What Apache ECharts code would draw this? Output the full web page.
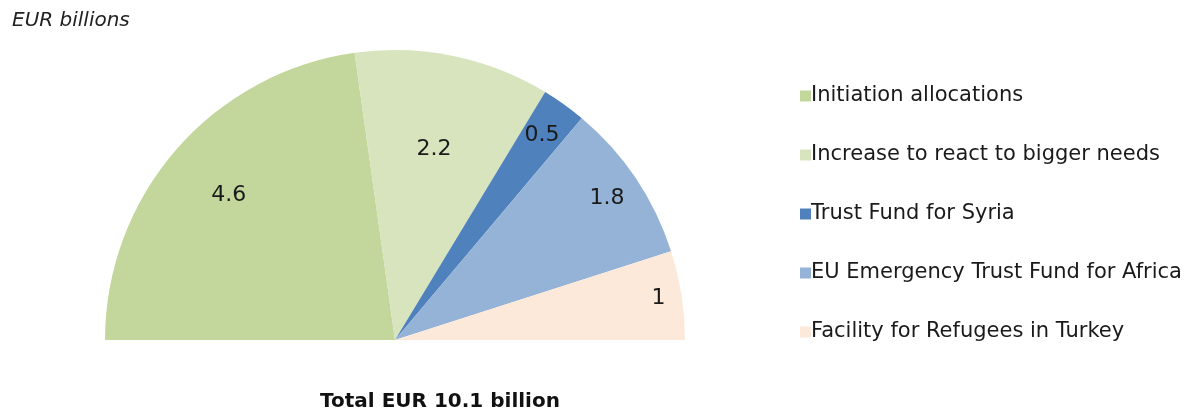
<!DOCTYPE html>
<html>
<head>
<meta charset="utf-8">
<title></title>
<script src="https://cdn.jsdelivr.net/npm/echarts@6/dist/echarts.min.js"></script>
<style>
  html, body { margin: 0; padding: 0; background: #fff; }
  #main { width: 1189px; height: 412px; }
</style>
</head>
<body>
<div id="main"></div>
<script type="text/javascript">
var categories = ['Initiation allocations', 'Increase to react to bigger needs', 'Trust Fund for Syria', 'EU Emergency Trust Fund for Africa', 'Facility for Refugees in Turkey'];
var values = [4.6, 2.2, 0.5, 1.8, 1];
var colors = ['#C3D69B', '#D7E4BD', '#4F81BD', '#95B3D7', '#FDE9D9'];
// how far out each value label sits, as a share of the radius
var labelRadius = [0.76, 0.67, 0.87, 0.88, 0.92];

var cx = 395, cy = 340, R = 290;
var total = values.reduce(function (a, b) { return a + b; }, 0);

var font = '"DejaVu Sans", Verdana, sans-serif';
var myChart = echarts.init(document.getElementById('main'));

myChart.setOption({
  animation: false,
  color: colors,
  textStyle: { fontFamily: font },
  graphic: [
    { type: 'text', left: 12, top: 11, style: { text: 'EUR billions', font: 'italic 20px ' + font, fill: '#222' } },
    { type: 'text', x: 440, y: 402, style: { text: 'Total EUR 10.1 billion', font: 'bold 20px ' + font, fill: '#111', align: 'center', verticalAlign: 'middle' } }
  ],
  legend: {
    orient: 'vertical',
    left: 795,
    top: 79,
    icon: 'rect',
    itemWidth: 11,
    itemHeight: 11,
    itemGap: 35,
    selectedMode: false,
    textStyle: { fontFamily: font, fontSize: 21, lineHeight: 24, color: '#1a1a1a', padding: [0, 0, 0, -5] },
    data: categories
  },
  series: [{
    type: 'pie',
    center: [cx, cy],
    radius: [0, R],
    startAngle: 180,
    endAngle: 0,
    clockwise: true,
    silent: true,
    label: {
      show: true,
      position: 'inside',
      formatter: '{c}',
      fontFamily: font,
      fontSize: 22,
      color: '#1a1a1a'
    },
    labelLine: { show: false },
    labelLayout: function (p) {
      var i = p.dataIndex;
      var before = 0;
      for (var k = 0; k < i; k++) before += values[k];
      var mid = 180 - (before + values[i] / 2) / total * 180;
      var a = mid * Math.PI / 180;
      var r = labelRadius[i] * R;
      return { x: cx + r * Math.cos(a), y: cy - r * Math.sin(a), align: 'center', verticalAlign: 'middle' };
    },
    itemStyle: { borderWidth: 0 },
    data: categories.map(function (c, i) { return { name: c, value: values[i] }; })
  }]
});
</script>
</body>
</html>
